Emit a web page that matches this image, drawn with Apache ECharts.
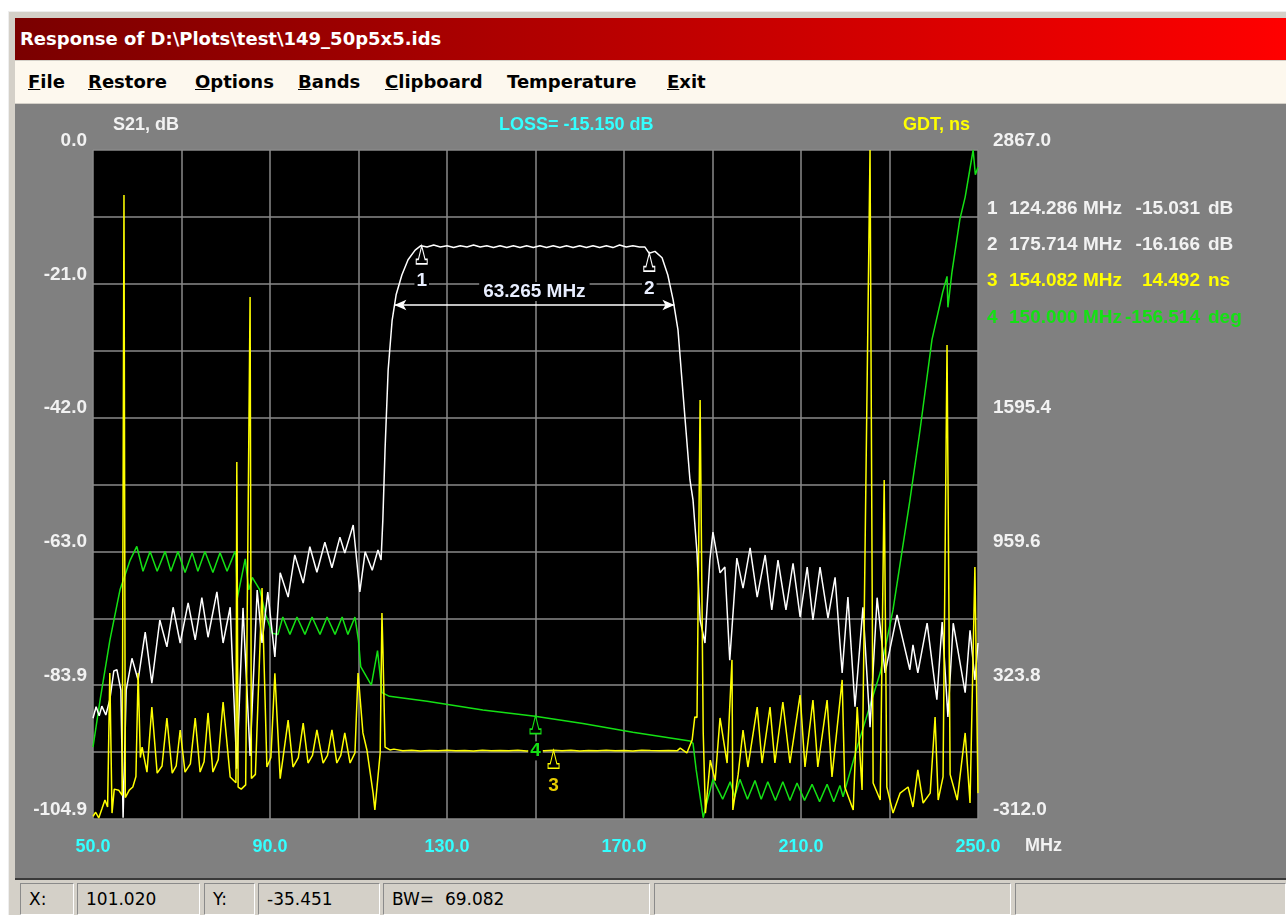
<!DOCTYPE html>
<html>
<head>
<meta charset="utf-8">
<title>Response of D:\Plots\test\149_50p5x5.ids</title>
<script src="https://cdn.jsdelivr.net/npm/echarts@6.0.0/dist/echarts.min.js"></script>
<style>
  html, body { margin: 0; padding: 0; width: 1286px; height: 915px; overflow: hidden; background: #fff; }
  .frame { position: absolute; left: 8px; top: 11px; width: 1278px; height: 904px; background: #d4d0c8; border-top: 1px solid #eeeeee; border-left: 1px solid #eeeeee; box-sizing: border-box; }
  .titlebar { position: absolute; left: 15px; top: 18px; width: 1271px; height: 42px; background: linear-gradient(to right, #7a0000, #ff0000); color: #fff; font: bold 18px "DejaVu Sans", sans-serif; line-height: 42px; padding-left: 5px; box-sizing: border-box; white-space: pre; }
  .menubar { position: absolute; left: 15px; top: 61px; width: 1271px; height: 42px; background: #fdf8ee; font: bold 18px "DejaVu Sans", sans-serif; line-height: 42px; color: #000; }
  .menubar span { position: absolute; top: 0; }
  #chart { position: absolute; left: 15px; top: 104px; width: 1271px; height: 774px; }
  .status { position: absolute; left: 15px; top: 878px; width: 1271px; height: 37px; background: #d4d0c8; border-top: 2px solid #3a3a3a; box-sizing: border-box; }
  .cell { position: absolute; top: 3px; height: 32px; border-top: 1px solid #8a8a8a; border-left: 1px solid #8a8a8a; border-bottom: 1px solid #fff; border-right: 1px solid #fff; box-sizing: border-box; font: 17px "DejaVu Sans", sans-serif; line-height: 30px; padding-left: 8px; color: #000; white-space: pre; }
</style>
</head>
<body>
<div class="frame"></div>
<div class="titlebar">Response of D:\Plots\test\149_50p5x5.ids</div>
<div class="menubar">
  <span style="left:13px"><u>F</u>ile</span>
  <span style="left:73px"><u>R</u>estore</span>
  <span style="left:180px"><u>O</u>ptions</span>
  <span style="left:283px"><u>B</u>ands</span>
  <span style="left:370px"><u>C</u>lipboard</span>
  <span style="left:492px">Temperature</span>
  <span style="left:652px"><u>E</u>xit</span>
</div>
<div id="chart"></div>
<div class="status">
  <div class="cell" style="left:5px;width:54px">X:</div>
  <div class="cell" style="left:62px;width:123px">101.020</div>
  <div class="cell" style="left:189px;width:51px">Y:</div>
  <div class="cell" style="left:243px;width:122px">-35.451</div>
  <div class="cell" style="left:368px;width:267px">BW=  69.082</div>
  <div class="cell" style="left:639px;width:357px"></div>
  <div class="cell" style="left:1000px;width:271px"></div>
</div>
<script>
// tick labels
const xTicks = ["50.0", "90.0", "130.0", "170.0", "210.0", "250.0"];
const leftTicks = ["0.0", "-21.0", "-42.0", "-63.0", "-83.9", "-104.9"];
const rightTicks = ["2867.0", "", "1595.4", "959.6", "323.8", "-312.0"];

// S21 magnitude, [MHz, dB]
const s21Data = [
  [50.0, -89.1], [50.7, -87.3], [51.4, -88.7], [52.0, -87.2], [52.9, -88.6], [53.8, -86.2],
  [54.7, -81.7], [55.4, -81.5], [56.3, -84.7], [56.8, -104.7], [57.5, -84.7], [58.8, -79.7],
  [60.2, -83.1], [61.8, -75.6], [63.3, -83.6], [65.1, -73.7], [66.7, -77.9], [68.1, -71.7],
  [69.7, -77.3], [71.5, -71.0], [73.1, -76.8], [74.6, -70.2], [76.0, -76.4], [78.0, -69.3],
  [79.4, -77.3], [81.0, -71.7], [82.5, -97.0], [83.9, -71.8], [85.5, -95.0], [87.1, -69.0],
  [88.2, -77.3], [89.5, -69.3], [91.1, -79.5], [92.3, -66.3], [94.1, -70.1], [95.6, -63.5],
  [97.5, -67.9], [99.0, -62.2], [100.6, -66.2], [102.4, -61.5], [104.0, -65.5], [105.8, -60.7],
  [106.9, -63.2], [108.8, -58.8], [110.3, -69.3], [111.5, -63.0], [113.1, -65.9], [114.4, -62.7],
  [115.1, -64.3], [115.5, -58.0], [116.0, -47.0], [116.7, -34.5], [117.6, -26.7], [118.5, -22.7],
  [119.8, -19.6], [121.2, -17.2], [122.8, -15.7], [124.1, -15.0], [125.5, -15.2], [127.0, -14.9],
  [128.5, -15.2], [130.0, -15.0], [131.5, -15.3], [133.0, -15.0], [134.5, -15.2], [136.0, -14.9],
  [137.5, -15.2], [139.0, -15.0], [140.5, -15.3], [142.0, -15.0], [143.5, -15.3], [145.0, -15.0],
  [146.5, -15.3], [148.0, -15.0], [149.5, -15.3], [151.0, -15.0], [152.5, -15.3], [154.0, -15.0],
  [155.5, -15.3], [157.0, -15.0], [158.5, -15.3], [160.0, -15.0], [161.5, -15.3], [163.0, -15.0],
  [164.5, -15.3], [166.0, -15.0], [167.5, -15.3], [169.0, -14.9], [170.5, -15.2], [172.0, -15.0],
  [173.5, -15.2], [174.7, -15.2], [175.7, -16.2], [177.0, -15.9], [178.6, -16.9], [179.9, -19.6],
  [181.1, -23.5], [182.2, -28.2], [183.1, -36.1], [184.0, -43.9], [184.9, -51.7], [185.6, -54.9],
  [186.5, -63.2], [187.2, -73.7], [188.3, -77.3], [189.4, -64.3], [190.1, -59.9], [191.7, -66.3],
  [192.8, -65.4], [193.9, -80.0], [195.5, -64.0], [196.9, -68.7], [198.5, -62.4], [200.1, -70.1],
  [201.9, -63.5], [203.4, -72.1], [204.8, -64.3], [206.6, -72.1], [208.2, -64.8], [209.8, -73.2],
  [211.4, -65.4], [212.7, -73.7], [214.3, -65.4], [216.1, -73.4], [217.7, -67.0], [219.3, -82.0],
  [220.6, -70.1], [222.2, -87.3], [224.0, -71.7], [225.6, -90.5], [227.2, -70.2], [229.0, -82.0],
  [231.7, -72.9], [234.6, -81.5], [235.3, -77.6], [236.4, -82.0], [238.5, -74.2], [240.7, -86.2],
  [241.9, -74.0], [243.2, -88.9], [244.4, -74.2], [247.1, -85.1], [248.2, -75.3], [249.3, -83.1],
  [250.0, -77.3]
];

// group delay, [MHz, ns]
const gdtData = [
  [50.0, -300], [50.6, -280], [51.3, -307], [52.0, -265], [52.7, -222], [53.3, -255], [53.8, 382],
  [54.3, -284], [54.8, -170], [55.8, -175], [56.6, -200], [57.0, 2653], [57.3, -210], [58.2, -175],
  [59.0, -160], [59.7, -110], [60.2, 382], [60.7, -20], [61.1, 30], [62.2, -89], [63.3, 220],
  [64.5, -94], [65.6, -60], [66.7, 168], [67.9, -94], [68.8, -60], [69.7, 111], [70.8, -89],
  [72.0, -50], [73.1, 168], [74.2, -89], [75.1, -40], [76.0, 192], [77.1, -89], [78.3, -30],
  [79.4, 244], [81.0, -112], [82.3, -140], [82.5, 1384], [82.8, -160], [83.5, -170], [84.5, -150],
  [85.5, 2169], [85.8, -120], [86.7, -100], [88.2, 786], [89.3, -65], [90.2, -20], [91.1, 380],
  [92.3, -120], [94.1, 158], [95.2, -65], [96.4, -20], [97.5, 144], [98.6, -46], [99.6, -10],
  [100.6, 111], [102.0, -46], [103.0, -10], [104.0, 111], [105.1, -46], [106.0, -10], [106.9, 97],
  [108.1, -46], [109.2, 2], [109.9, 382], [111.0, 97], [111.9, 16], [113.3, -189], [113.7, -269],
  [114.9, 2], [115.3, 667], [115.5, 505], [116.0, 30], [117.1, 16], [118.0, 20], [120.0, 12],
  [122.0, 15], [124.0, 11], [126.0, 14], [128.0, 12], [130.0, 15], [132.0, 12], [134.0, 14],
  [136.0, 11], [138.0, 15], [140.0, 12], [142.0, 14], [144.0, 12], [146.0, 15], [148.0, 11],
  [150.0, 14], [152.0, 12], [154.1, 14.5], [156.0, 12], [158.0, 15], [160.0, 11], [162.0, 14],
  [164.0, 12], [166.0, 15], [168.0, 12], [170.0, 14], [172.0, 11], [174.0, 15], [176.0, 13],
  [178.0, 12], [180.0, 14], [182.0, 12], [182.7, 25], [184.2, 2], [185.4, 63], [186.0, 173],
  [186.5, 170], [187.2, 1679], [187.9, 100], [188.4, -284], [189.5, -32], [190.6, -130], [191.7, 168],
  [193.3, -46], [194.4, 444], [194.6, -269], [195.8, -100], [196.9, 111], [198.0, -65], [200.1, 220],
  [201.2, -46], [203.0, 220], [204.1, -46], [205.9, 244], [207.5, -46], [209.8, 277], [210.9, -65],
  [212.7, 253], [213.8, -65], [215.9, 253], [217.0, -112], [219.3, 349], [219.9, -160], [221.8, -269],
  [222.7, 220], [223.8, -174], [225.6, 2867], [226.3, -141], [227.9, -222], [228.8, 1299], [229.4, -160],
  [230.8, -284], [232.4, -189], [234.2, -160], [235.3, -255], [236.4, -79], [237.6, -236], [239.2, -189],
  [240.3, 173], [241.0, -222], [242.1, -112], [243.0, 1940], [243.7, -100], [245.3, -222], [247.1, 97],
  [248.2, -236], [249.3, 885], [250.0, -189]
];

// phase, [MHz, deg]
const phaseData = [
  [50.0, -182], [51.6, -144], [53.8, -96], [56.1, -55], [58.4, -31], [59.9, -20], [61.3, -40],
  [62.9, -24], [64.5, -40], [66.3, -24], [67.6, -40], [69.2, -24], [70.8, -41], [72.4, -25],
  [73.7, -40], [75.3, -24], [77.1, -41], [78.7, -25], [80.3, -40], [82.1, -24], [82.3, -27],
  [82.6, -62], [84.4, -30], [85.2, -55], [86.0, -45], [87.7, -55], [89.0, -75], [90.5, -90],
  [91.8, -91], [92.9, -77], [94.5, -91], [96.1, -77], [97.9, -91], [99.5, -77], [101.3, -91],
  [102.9, -77], [104.7, -91], [106.3, -77], [107.6, -91], [109.2, -77], [110.0, -96], [110.5, -117],
  [112.9, -132], [114.3, -104], [115.3, -138], [117.0, -141], [125.5, -145], [138.1, -152],
  [149.9, -157], [160.7, -163], [172.0, -170], [184.9, -177], [185.6, -179], [186.3, -200],
  [187.9, -239], [188.5, -230], [190.1, -208], [192.3, -224], [194.0, -210], [195.0, -222],
  [196.2, -208], [197.9, -224], [199.6, -209], [201.0, -224], [202.5, -210], [204.2, -225],
  [205.9, -210], [207.5, -225], [209.1, -211], [210.8, -225], [212.5, -212], [214.2, -226],
  [215.9, -212], [217.4, -226], [218.8, -213], [219.5, -222], [222.7, -182], [227.9, -122],
  [230.8, -71], [234.6, 17], [236.9, 74], [239.6, 147], [242.0, 185], [243.0, 198], [243.2, 173],
  [244.1, 201], [245.9, 244], [247.1, 262], [248.9, 300], [249.4, 280], [250.0, 286]
];

// markers
const markerFreq = [124.286, 175.714, 154.082, 150.000];
const markerVal = [-15.031, -16.166, 14.492, -156.514];
const markerUnit = ["dB", "dB", "ns", "deg"];
const bwEdges = [118.1, 181.4];
const bwLevel = -24.3;

const FONT = '"Liberation Sans", Arial, sans-serif';
const WHITE = "#f2f2f2";
const CYAN = "#33ffff";
const YELLOW = "#ffff00";
const GREEN = "#14e014";
const readColors = [WHITE, WHITE, YELLOW, GREEN];

const markerSymbol = "path://M5,0 L8,12 L10,12 L10,16 L0,16 L0,12 L2,12 Z";

function markerPoint(i, color, labelColor) {
  return {
    coord: [markerFreq[i], markerVal[i]],
    symbol: markerSymbol,
    symbolSize: [11, 18],
    symbolOffset: [0, 9],
    itemStyle: { color: "#000", borderColor: color, borderWidth: 1.3 },
    label: {
      show: true,
      formatter: String(i + 1),
      position: "bottom",
      distance: 7,
      color: labelColor,
      fontFamily: FONT,
      fontWeight: "bold",
      fontSize: 19,
      backgroundColor: "#000",
      padding: [0, 2]
    }
  };
}

const chart = echarts.init(document.getElementById("chart"));

// readout text on the right
const readout = [];
markerFreq.forEach((f, i) => {
  const y = 106 + i * 36.3;
  const style = { fill: readColors[i], font: "bold 19px " + FONT, textVerticalAlign: "middle" };
  readout.push({ type: "text", left: 972, top: y - 11, style: Object.assign({ text: String(i + 1) }, style) });
  readout.push({ type: "text", left: 994, top: y - 11, style: Object.assign({ text: f.toFixed(3) + " MHz" }, style) });
  readout.push({ type: "text", right: 1271 - 1185, top: y - 11, style: Object.assign({ text: markerVal[i].toFixed(3) }, style) });
  readout.push({ type: "text", left: 1193, top: y - 11, style: Object.assign({ text: markerUnit[i] }, style) });
});

const option = {
  animation: false,
  backgroundColor: "#808080",
  grid: { left: 78, top: 46, right: 308, bottom: 59, show: true, backgroundColor: "#000", borderWidth: 0 },
  xAxis: {
    type: "value",
    min: 50,
    max: 250,
    interval: 20,
    axisLine: { show: false },
    axisTick: { show: false },
    splitLine: { lineStyle: { color: "#8a8a8a", width: 1.5 } },
    axisLabel: {
      color: CYAN,
      fontFamily: FONT,
      fontWeight: "bold",
      fontSize: 18,
      margin: 19,
      showMinLabel: true,
      showMaxLabel: true,
      formatter: v => {
        const k = Math.round((v - 50) / 20);
        return k % 2 === 0 ? xTicks[k / 2] : "";
      }
    }
  },
  yAxis: [
    {
      type: "value",
      position: "left",
      min: -104.9,
      max: 0,
      interval: 10.49,
      axisLine: { show: false },
      axisTick: { show: false },
      splitLine: { lineStyle: { color: "#8a8a8a", width: 1.5 } },
      axisLabel: {
        color: WHITE,
        fontFamily: FONT,
        fontWeight: "bold",
        fontSize: 19,
        margin: 6,
        verticalAlign: "bottom",
        showMinLabel: true,
        showMaxLabel: true,
        formatter: v => {
          const k = Math.round((v + 104.9) / 10.49);
          return k % 2 === 0 ? leftTicks[5 - k / 2] : "";
        }
      }
    },
    {
      type: "value",
      position: "right",
      min: -312,
      max: 2867,
      interval: 317.9,
      axisLine: { show: false },
      axisTick: { show: false },
      splitLine: { show: false },
      axisLabel: {
        color: WHITE,
        fontFamily: FONT,
        fontWeight: "bold",
        fontSize: 19,
        margin: 15,
        verticalAlign: "bottom",
        showMinLabel: true,
        showMaxLabel: true,
        formatter: v => {
          const k = Math.round((v + 312) / 317.9);
          return k % 2 === 0 ? rightTicks[5 - k / 2] : "";
        }
      }
    },
    { type: "value", min: -240, max: 300, show: false, splitLine: { show: false } }
  ],
  graphic: [
    { type: "text", left: 98, top: 12, style: { text: "S21, dB", fill: WHITE, font: "bold 18px " + FONT } },
    { type: "text", left: 484, top: 12, style: { text: "LOSS= -15.150 dB", fill: CYAN, font: "bold 18px " + FONT } },
    { type: "text", left: 888, top: 12, style: { text: "GDT, ns", fill: YELLOW, font: "bold 18px " + FONT } },
    { type: "text", left: 1010, top: 733, style: { text: "MHz", fill: WHITE, font: "bold 18px " + FONT } }
  ].concat(readout),
  series: [
    {
      name: "Phase",
      type: "line",
      yAxisIndex: 2,
      data: phaseData,
      showSymbol: false,
      color: GREEN,
      lineStyle: { width: 1.5, color: GREEN },
      markPoint: { silent: true, data: [markerPoint(3, GREEN, GREEN)] }
    },
    {
      name: "S21",
      type: "line",
      yAxisIndex: 0,
      data: s21Data,
      showSymbol: false,
      color: "#ffffff",
      lineStyle: { width: 1.5, color: "#ffffff" },
      markPoint: { silent: true, data: [markerPoint(0, "#ffffff", "#e8eeff"), markerPoint(1, "#ffffff", "#e8eeff")] },
      markLine: {
        silent: true,
        symbol: ["arrow", "arrow"],
        symbolSize: [8, 12],
        lineStyle: { color: "#ffffff", width: 1.5, type: "solid" },
        label: {
          show: true,
          position: "insideMiddleTop",
          distance: 4,
          formatter: "63.265 MHz",
          color: "#e8eeff",
          fontFamily: FONT,
          fontWeight: "bold",
          fontSize: 19,
          backgroundColor: "#000",
          padding: [0, 4]
        },
        data: [[{ coord: [bwEdges[0], bwLevel] }, { coord: [bwEdges[1], bwLevel] }]]
      }
    },
    {
      name: "GDT",
      type: "line",
      yAxisIndex: 1,
      data: gdtData,
      showSymbol: false,
      color: YELLOW,
      lineStyle: { width: 1.5, color: YELLOW },
      markPoint: { silent: true, data: [markerPoint(2, YELLOW, "#e6cc00")] }
    }
  ]
};

chart.setOption(option);
</script>
</body>
</html>
